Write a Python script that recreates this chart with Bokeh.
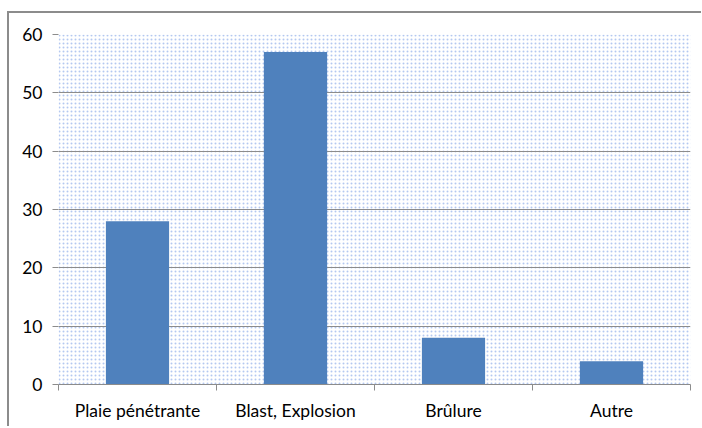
from bokeh.plotting import figure
from bokeh.models import FixedTicker, BoxAnnotation, Range1d, ColumnDataSource
from bokeh.embed import file_html
from bokeh.resources import INLINE

categories = ["Plaie pénétrante", "Blast, Explosion", "Brûlure", "Autre"]
values = [28, 57, 8, 4]
y_ticks = [0, 10, 20, 30, 40, 50, 60]

FONT = "Lato"
centers = [i + 0.5 for i in range(len(categories))]
src = ColumnDataSource(dict(x=centers, top=values))

p = figure(width=694, height=415, output_backend="svg", toolbar_location=None,
           x_range=Range1d(0, len(categories)), y_range=Range1d(0, 60),
           min_border_left=49, min_border_right=13, min_border_top=21, min_border_bottom=44,
           styles={"border-left": "2px solid #8c8c8c", "border-top": "2px solid #8c8c8c",
                   "margin-left": "7px", "margin-top": "11px"})
p.background_fill_color = "white"
p.border_fill_color = "white"
p.outline_line_color = None

# dotted background pattern
p.add_layout(BoxAnnotation(left=0, right=len(categories), bottom=0, top=60,
                           fill_color="white", fill_alpha=1.0, line_color=None,
                           hatch_pattern=".", hatch_scale=4, hatch_color="#3a6fd8",
                           hatch_alpha=0.38, hatch_weight=1, level="image"))

p.vbar(x="x", top="top", width=0.4, source=src, fill_color="#4f81bd", line_color=None)

p.xgrid.grid_line_color = None
p.ygrid.grid_line_color = "#8c8c8c"
p.ygrid.grid_line_width = 1
p.ygrid.ticker = FixedTicker(ticks=y_ticks)

p.yaxis.ticker = FixedTicker(ticks=y_ticks)
p.yaxis.axis_line_color = None
p.yaxis.major_tick_line_color = "#8c8c8c"
p.yaxis.major_tick_out = 6
p.yaxis.major_tick_in = 0
p.yaxis.minor_tick_line_color = None
p.yaxis.major_label_text_font = FONT
p.yaxis.major_label_text_font_size = "17.5px"
p.yaxis.major_label_text_color = "#000000"
p.yaxis.major_label_standoff = 10

p.xaxis.ticker = FixedTicker(ticks=centers, minor_ticks=list(range(len(categories) + 1)))
p.xaxis.major_label_overrides = {c: lab for c, lab in zip(centers, categories)}
p.xaxis.axis_line_color = "#8c8c8c"
p.xaxis.major_tick_line_color = None
p.xaxis.minor_tick_line_color = "#8c8c8c"
p.xaxis.minor_tick_out = 6
p.xaxis.minor_tick_in = 0
p.xaxis.major_label_text_font = FONT
p.xaxis.major_label_text_font_size = "17.5px"
p.xaxis.major_label_text_color = "#000000"
p.xaxis.major_label_standoff = 9

open("out.html", "w").write(file_html(p, INLINE))
